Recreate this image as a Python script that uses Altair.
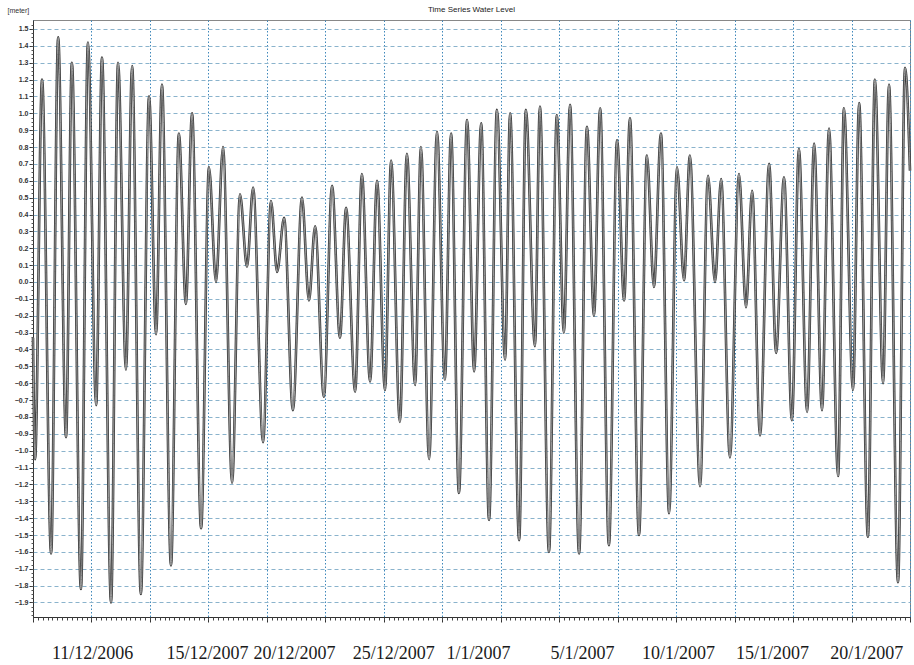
import altair as alt
import pandas as pd

TITLE = "Time Series Water Level"
UNIT = "[meter]"

# time in days from the left edge of the plot, water level in metres (turning points)
day = [0.00, 0.07, 0.31, 0.62, 0.86, 1.13, 1.33, 1.64, 1.88, 2.16,
       2.36, 2.67, 2.91, 3.18, 3.39, 3.69, 3.97, 4.21, 4.41, 4.72,
       4.99, 5.23, 5.44, 5.75, 6.02, 6.26, 6.50, 6.81, 7.08, 7.32,
       7.53, 7.87, 8.14, 8.35, 8.59, 8.89, 9.20, 9.44, 9.65, 9.95,
       10.23, 10.50, 10.71, 11.02, 11.25, 11.53, 11.77, 12.04, 12.25, 12.55,
       12.79, 13.07, 13.27, 13.55, 13.82, 14.09, 14.30, 14.57, 14.85, 15.09,
       15.33, 15.60, 15.87, 16.15, 16.32, 16.63, 16.86, 17.17, 17.34, 17.65,
       17.92, 18.16, 18.37, 18.68, 18.95, 19.19, 19.40, 19.70, 19.98, 20.22,
       20.42, 20.73, 21.00, 21.24, 21.48, 21.76, 22.03, 22.27, 22.47, 22.82,
       23.09, 23.33, 23.54, 23.84, 24.15, 24.39, 24.60, 24.87, 25.18, 25.42,
       25.69, 25.96, 26.20, 26.48, 26.72, 26.99, 27.23, 27.54, 27.74, 28.05,
       28.26, 28.56, 28.80, 29.08, 29.28, 29.59, 29.83, 30.00]
level = [-0.33, -1.05, 1.20, -1.61, 1.45, -0.92, 1.30, -1.82, 1.42, -0.73,
         1.33, -1.90, 1.30, -0.52, 1.28, -1.85, 1.10, -0.31, 1.17, -1.68,
         0.88, -0.13, 1.00, -1.46, 0.68, 0.00, 0.80, -1.19, 0.52, 0.09,
         0.56, -0.95, 0.48, 0.06, 0.38, -0.76, 0.50, -0.11, 0.33, -0.68,
         0.57, -0.33, 0.44, -0.65, 0.64, -0.59, 0.60, -0.64, 0.72, -0.83,
         0.76, -0.61, 0.80, -1.05, 0.89, -0.58, 0.88, -1.25, 0.96, -0.53,
         0.94, -1.41, 1.02, -0.46, 1.00, -1.53, 1.02, -0.38, 1.04, -1.60,
         0.99, -0.30, 1.05, -1.61, 0.92, -0.20, 1.03, -1.56, 0.84, -0.11,
         0.97, -1.50, 0.75, -0.03, 0.88, -1.37, 0.68, 0.01, 0.75, -1.21,
         0.63, 0.00, 0.61, -1.04, 0.64, -0.15, 0.54, -0.91, 0.70, -0.42,
         0.62, -0.82, 0.79, -0.77, 0.82, -0.76, 0.91, -1.15, 1.03, -0.64,
         1.06, -1.51, 1.20, -0.60, 1.17, -1.78, 1.27, 0.66]

# date labels under the plot and where they sit (in days)
date_pos = [2.02, 5.95, 8.93, 12.32, 15.22, 18.78, 22.06, 25.28, 28.50]
date_text = ["11/12/2006", "15/12/2007", "20/12/2007", "25/12/2007", "1/1/2007",
             "5/1/2007", "10/1/2007", "15/1/2007", "20/1/2007"]

# axis tick positions
grid_days = list(range(0, 31, 2))
minor_days = [i / 6 for i in range(0, 181)]
y_ticks = [round(-1.9 + 0.1 * i, 1) for i in range(35)]
y_minor = [round(-1.975 + 0.025 * i, 3) for i in range(141)]

X_DOMAIN = [0, 30]
Y_DOMAIN = [-1.986, 1.553]

df = pd.DataFrame({"day": day, "level": level})
labels_df = pd.DataFrame({"pos": date_pos, "text": date_text})

xs = alt.Scale(domain=X_DOMAIN, nice=False, zero=False)
ys = alt.Scale(domain=Y_DOMAIN, nice=False, zero=False)

label_expr = ("[" + ",".join("'%s'" % t for t in date_text) + "][indexof(["
              + ",".join(str(p) for p in date_pos) + "], datum.value)]")

base_line = alt.Chart(df).mark_line(
    interpolate="monotone", color="#3a3a3a", strokeWidth=2.6
).encode(
    x=alt.X("day:Q", scale=xs, axis=alt.Axis(
        orient="bottom", values=grid_days, labels=False, title=None,
        grid=True, gridColor="#3f88bb", gridDash=[1.5, 2], gridWidth=1,
        ticks=True, tickSize=5, tickColor="#333", domain=True, domainColor="#333",
        domainWidth=1.2)),
    y=alt.Y("level:Q", scale=ys, axis=alt.Axis(
        orient="left", values=y_ticks, format=".1f", title=UNIT,
        titleAngle=0, titleAlign="left", titleBaseline="middle", titleX=-26, titleY=-10,
        titleFontSize=7, titleFontWeight="normal", titleFont="Liberation Sans", titleColor="#333",
        grid=True, gridColor="#8ab3cc", gridDash=[4, 3], gridWidth=1,
        labelFont="Liberation Sans", labelFontSize=7, labelFontWeight="bold", labelColor="#333",
        labelPadding=1, tickSize=4, tickColor="#333", domain=True, domainColor="#333",
        labelOverlap=False, labelFlush=False)),
)

inner_line = alt.Chart(df).mark_line(
    interpolate="monotone", color="#a6a6a6", strokeWidth=0.9
).encode(
    x=alt.X("day:Q", scale=xs, axis=None),
    y=alt.Y("level:Q", scale=ys, axis=None),
)

minor_ticks = alt.Chart(df).mark_point(opacity=0).encode(
    x=alt.X("day:Q", scale=xs, axis=alt.Axis(
        orient="bottom", values=minor_days, labels=False, title=None, grid=False,
        domain=False, tickSize=3, tickColor="#444")),
    y=alt.Y("level:Q", scale=ys, axis=alt.Axis(
        orient="left", values=y_minor, labels=False, title=None, grid=False,
        domain=False, tickSize=2, tickColor="#555")),
)

date_axis = alt.Chart(labels_df).mark_point(opacity=0).encode(
    x=alt.X("pos:Q", scale=xs, axis=alt.Axis(
        orient="bottom", values=date_pos, labelExpr=label_expr, title=None,
        grid=False, domain=False, ticks=False, labelPadding=27,
        labelFont="Liberation Serif", labelFontSize=18, labelColor="#1a1a1a",
        labelOverlap=False, labelFlush=False, labelBound=False)),
)

chart = alt.layer(base_line, inner_line, minor_ticks, date_axis).resolve_axis(
    x="independent", y="independent"
).properties(
    width=877, height=597,
    title=alt.TitleParams(TITLE, fontSize=8, font="Liberation Sans", fontWeight="normal",
                          color="#222", anchor="middle", offset=-7.5, frame="group"),
    autosize=alt.AutoSizeParams(type="none"),
    padding={"left": 33, "top": 20, "right": 4, "bottom": 48},
    background="white",
).configure_view(stroke="#888", strokeWidth=1)

chart.save("out.html", embed_options={"renderer": "svg", "actions": False})
